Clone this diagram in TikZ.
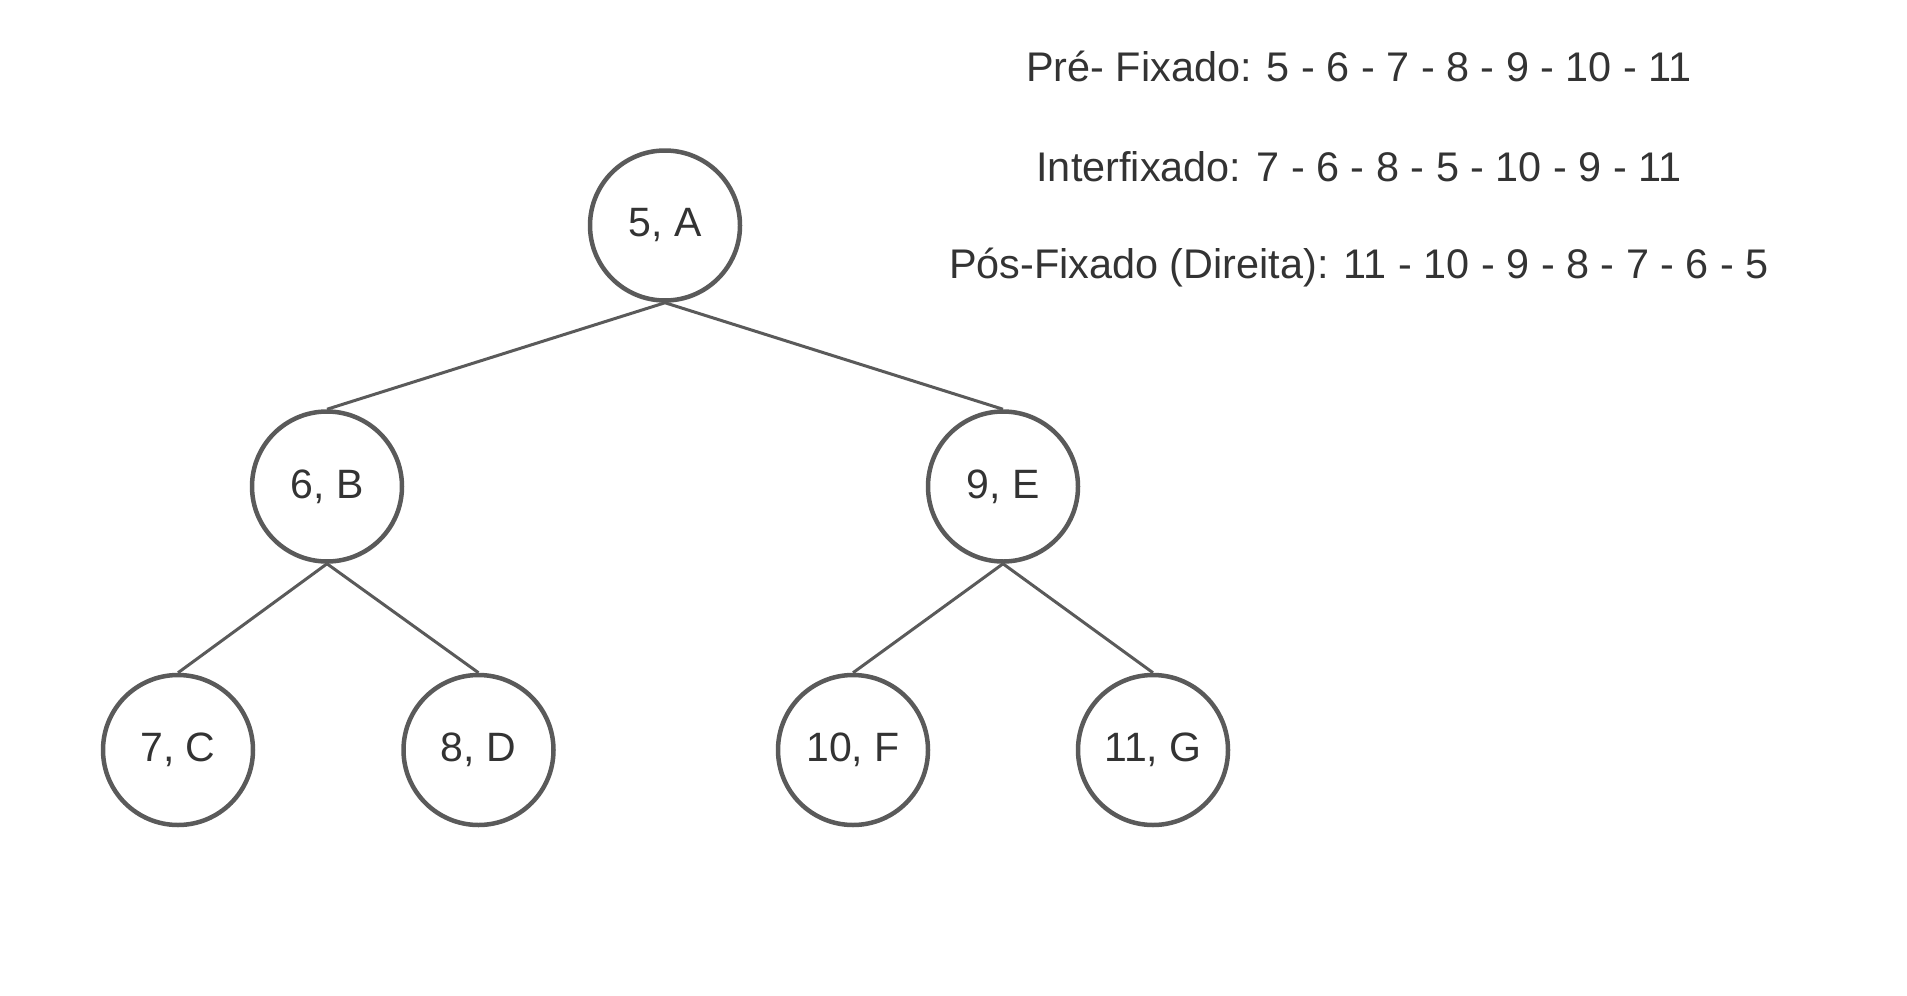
\documentclass[tikz,border=0pt]{standalone}
\usepackage{fontspec}
\setmainfont{Liberation Sans}
\definecolor{edgegray}{HTML}{5A5A5A}
\definecolor{txtgray}{HTML}{333333}
\begin{document}
\begin{tikzpicture}[x=1pt,y=-1pt,
  treenode/.style={circle,draw=edgegray,line width=4.5pt,minimum size=150pt,inner sep=0pt,
    text=txtgray,font=\fontsize{41}{49}\selectfont},
  link/.style={draw=edgegray,line width=3pt},
  info/.style={text=txtgray,font=\fontsize{41.4}{49}\selectfont,anchor=center,inner sep=0pt}]
\useasboundingbox (0,0) rectangle (1907,996);
\node[treenode] (A) at (665,225.5) {5, A};
\node[treenode] (B) at (327,486.5) {6, B};
\node[treenode] (E) at (1003,486.5) {9, E};
\node[treenode] (C) at (178,750) {7, C};
\node[treenode] (D) at (478.5,750) {8, D};
\node[treenode] (F) at (853,750) {10, F};
\node[treenode] (G) at (1153,750) {11, G};
\draw[link] (A.south) -- (B.north);
\draw[link] (A.south) -- (E.north);
\draw[link] (B.south) -- (C.north);
\draw[link] (B.south) -- (D.north);
\draw[link] (E.south) -- (F.north);
\draw[link] (E.south) -- (G.north);
\node[info] (pre) at (1359,66) {Pré- Fixado: 5 - 6 - 7 - 8 - 9 - 10 - 11};
\node[info] (inter) at (1359,167) {Interfixado: 7 - 6 - 8 - 5 - 10 - 9 - 11};
\node[info] (pos) at (1359,268) {Pós-Fixado (Direita): 11 - 10 - 9 - 8 - 7 - 6 - 5};
\end{tikzpicture}
\end{document}
